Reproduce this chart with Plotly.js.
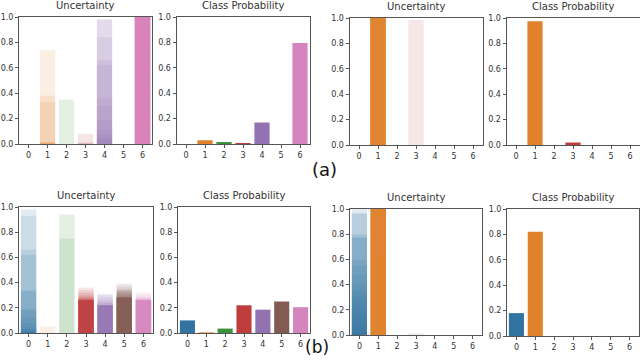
<!DOCTYPE html>
<html>
<head>
<meta charset="utf-8">
<script src="https://cdn.plot.ly/plotly-3.0.1.min.js"></script>
<style>
  html, body { margin: 0; padding: 0; background: #fff; }
  #chart { width: 640px; height: 361px; }
</style>
</head>
<body>
<div id="chart"></div>
<script>
// クラス (0-6) と色 (seaborn barplot の彩度 0.75)
const classes = [0, 1, 2, 3, 4, 5, 6];
const classColors = ['#3274a1', '#e1812c', '#3a923a', '#c03d3e', '#9372b2', '#845b53', '#d684bd'];

// Uncertainty: クラスごとのサンプル値 [値, 個数]
const uncA1 = [
    [],
    [[0.74, 1], [0.38, 1], [0.33, 1], [0.012, 4]],
    [[0.35, 1]],
    [[0.08, 1], [0.01, 2]],
    [[0.98, 2], [0.84, 1], [0.66, 1], [0.62, 1], [0.36, 1], [0.30, 1], [0.19, 1], [0.11, 1], [0.07, 1], [0.04, 2]],
    [],
    [[1.0, 25]]
];
const uncA2 = [
    [],
    [[1.0, 25]],
    [],
    [[0.985, 1]],
    [],
    [],
    []
];
const uncB1 = [
    [[0.98, 1], [0.93, 1], [0.66, 1], [0.62, 1], [0.34, 1], [0.33, 1], [0.19, 1], [0.18, 1], [0.12, 1], [0.08, 1], [0.05, 1], [0.03, 2], [0.01, 4]],
    [[0.05, 1]],
    [[0.94, 1], [0.75, 1]],
    [[0.36, 1], [0.34, 1], [0.32, 1], [0.30, 1], [0.29, 1], [0.28, 2], [0.27, 2], [0.26, 12]],
    [[0.31, 1], [0.30, 1], [0.28, 1], [0.26, 1], [0.24, 2], [0.22, 12]],
    [[0.39, 1], [0.37, 1], [0.35, 1], [0.34, 1], [0.33, 2], [0.31, 2], [0.29, 2], [0.28, 12]],
    [[0.32, 1], [0.30, 1], [0.28, 2], [0.27, 2], [0.26, 12]]
];
const uncB2 = [
    [[1.0, 1], [0.97, 1], [0.96, 1], [0.80, 1], [0.78, 1], [0.77, 1], [0.60, 1], [0.55, 1], [0.48, 1], [0.40, 1], [0.35, 1], [0.31, 1], [0.27, 1], [0.20, 1], [0.17, 1], [0.12, 1], [0.08, 1], [0.04, 1], [0.02, 2]],
    [[1.0, 25]],
    [],
    [[0.012, 1]],
    [],
    [],
    []
];

// Class Probability
const probA1 = [0.0, 0.03, 0.015, 0.008, 0.17, 0.0, 0.795];
const probA2 = [0.0, 0.975, 0.0, 0.02, 0.0, 0.0, 0.0];
const probB1 = [0.10, 0.005, 0.035, 0.22, 0.185, 0.25, 0.205];
const probB2 = [0.18, 0.82, 0.0, 0.0, 0.0, 0.0, 0.0];

const W = 640, H = 361;

// パネル位置 (px): [左, 右, 上, 下]
const panels = [
    { box: [19, 152, 17, 144], title: 'Uncertainty', unc: uncA1 },
    { box: [176.5, 309.5, 17, 144], title: 'Class Probability', prob: probA1 },
    { box: [349.5, 482.5, 18, 145], title: 'Uncertainty', unc: uncA2 },
    { box: [506.5, 639.5, 18, 145], title: 'Class Probability', prob: probA2 },
    { box: [19, 153, 207, 333], title: 'Uncertainty', unc: uncB1 },
    { box: [178, 310, 207, 333], title: 'Class Probability', prob: probB1 },
    { box: [350, 482, 209, 335], title: 'Uncertainty', unc: uncB2 },
    { box: [507, 639, 209, 336], title: 'Class Probability', prob: probB2 }
];

// [値, 個数] を値のリストに展開
function expand(pairs) {
    const out = [];
    pairs.forEach(([v, n]) => {
        for (let i = 0; i < n; i++) out.push(v);
    });
    return out;
}

const traces = [];
const layout = {
    width: W,
    height: H,
    margin: { l: 0, r: 0, t: 0, b: 0 },
    paper_bgcolor: '#fff',
    plot_bgcolor: '#fff',
    barmode: 'overlay',
    showlegend: false,
    font: { family: 'DejaVu Sans, sans-serif', color: '#333' },
    annotations: []
};

panels.forEach((p, i) => {
    const n = i + 1;
    const xa = 'x' + (n === 1 ? '' : n);
    const ya = 'y' + (n === 1 ? '' : n);
    const [l, r, t, b] = p.box;

    if (p.unc) {
        const lists = p.unc.map(expand);
        const maxN = Math.max(...lists.map(s => s.length));
        for (let k = 0; k < maxN; k++) {
            const cs = classes.filter(c => lists[c].length > k);
            traces.push({
                type: 'bar',
                x: cs,
                y: cs.map(c => lists[c][k]),
                width: 0.8,
                marker: { color: cs.map(c => classColors[c]), line: { width: 0 } },
                opacity: 0.13,
                xaxis: xa,
                yaxis: ya,
                hoverinfo: 'skip'
            });
        }
    } else {
        traces.push({
            type: 'bar',
            x: classes,
            y: p.prob,
            width: 0.8,
            marker: { color: classColors, line: { width: 0 } },
            xaxis: xa,
            yaxis: ya,
            hoverinfo: 'skip'
        });
    }

    const axisCommon = {
        showgrid: false,
        zeroline: false,
        showline: true,
        mirror: true,
        linecolor: '#555',
        linewidth: 1,
        ticks: 'outside',
        ticklen: 3,
        tickcolor: '#555',
        tickfont: { size: 8, color: '#333' },
        fixedrange: true
    };

    layout['xaxis' + (n === 1 ? '' : n)] = Object.assign({}, axisCommon, {
        domain: [l / W, r / W],
        range: [-0.5, 6.5],
        tickvals: classes,
        anchor: ya
    });
    layout['yaxis' + (n === 1 ? '' : n)] = Object.assign({}, axisCommon, {
        domain: [1 - b / H, 1 - t / H],
        range: [0, 1],
        tickvals: [0, 0.2, 0.4, 0.6, 0.8, 1.0],
        ticktext: ['0.0', '0.2', '0.4', '0.6', '0.8', '1.0'],
        anchor: xa
    });

    layout.annotations.push({
        text: p.title,
        xref: 'paper', yref: 'paper',
        x: (l + r) / 2 / W,
        y: 1 - (t - 4) / H,
        xanchor: 'center', yanchor: 'bottom',
        showarrow: false,
        font: { size: 10, color: '#333' }
    });
});

// (a), (b) ラベル
layout.annotations.push({
    text: '(a)', xref: 'paper', yref: 'paper',
    x: 324 / W, y: 1 - 170 / H, xanchor: 'center', yanchor: 'middle',
    showarrow: false, font: { size: 18, color: '#111' }
});
layout.annotations.push({
    text: '(b)', xref: 'paper', yref: 'paper',
    x: 317 / W, y: 1 - 347 / H, xanchor: 'center', yanchor: 'middle',
    showarrow: false, font: { size: 17, color: '#111' }
});

Plotly.newPlot('chart', traces, layout, { staticPlot: true });
</script>
</body>
</html>
